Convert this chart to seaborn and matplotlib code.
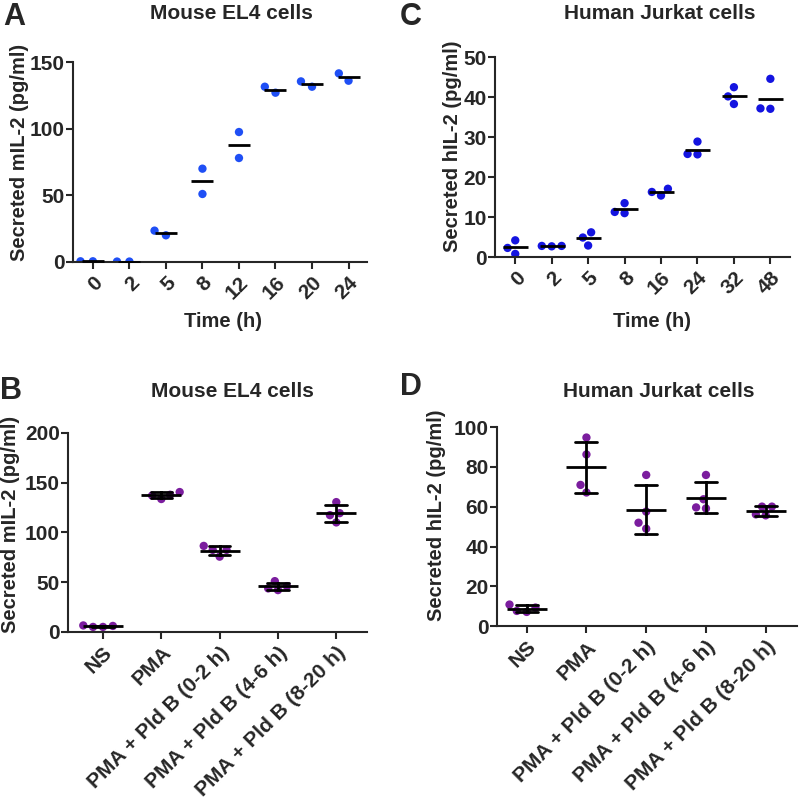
import pandas as pd
import matplotlib
matplotlib.use("Agg")
import matplotlib.pyplot as plt
import seaborn as sns

# ----------------------------------------------------------
# Data
# ----------------------------------------------------------

# A: mouse EL4 time course, two replicates
el4_time = ["0", "2", "5", "8", "12", "16", "20", "24"]
el4_rep1 = [0.5, 0.3, 20.0, 51.0, 78.0, 127.0, 131.5, 136.0]
el4_rep2 = [0.5, 0.3, 23.5, 70.0, 97.5, 131.5, 135.5, 141.5]

# C: human Jurkat time course, three replicates
jurkat_time = ["0", "2", "5", "8", "16", "24", "32", "48"]
jurkat_rep1 = [4.2, 2.7, 6.2, 13.5, 17.1, 28.9, 42.5, 44.6]
jurkat_rep2 = [0.8, 2.8, 2.9, 11.0, 15.4, 25.7, 38.3, 37.1]
jurkat_rep3 = [2.3, 2.8, 4.9, 11.3, 16.3, 25.8, 40.2, 37.2]

# B / D: treatments, four replicates
treatments = ["NS", "PMA", "PMA + Pld B (0-2 h)", "PMA + Pld B (4-6 h)", "PMA + Pld B (8-20 h)"]
el4_pld_rep1 = [5.0, 140.5, 82.4, 46.0, 119.3]
el4_pld_rep2 = [6.5, 137.8, 86.4, 51.0, 130.4]
el4_pld_rep3 = [5.0, 133.5, 75.6, 42.0, 110.0]
el4_pld_rep4 = [6.0, 137.0, 82.4, 43.7, 117.3]

jurkat_pld_rep1 = [9.4, 94.8, 76.0, 63.8, 60.1]
jurkat_pld_rep2 = [7.2, 86.3, 57.6, 76.0, 55.7]
jurkat_pld_rep3 = [10.9, 67.2, 49.0, 59.2, 60.1]
jurkat_pld_rep4 = [7.7, 71.0, 52.0, 59.7, 56.2]


def long_table(groups, reps):
    rows = []
    for rep in reps:
        for g, v in zip(groups, rep):
            rows.append({"group": g, "value": v})
    return pd.DataFrame(rows)


df_a = long_table(el4_time, [el4_rep1, el4_rep2])
df_c = long_table(jurkat_time, [jurkat_rep1, jurkat_rep2, jurkat_rep3])
df_b = long_table(treatments, [el4_pld_rep1, el4_pld_rep2, el4_pld_rep3, el4_pld_rep4])
df_d = long_table(treatments, [jurkat_pld_rep1, jurkat_pld_rep2, jurkat_pld_rep3, jurkat_pld_rep4])

# ----------------------------------------------------------
# Style
# ----------------------------------------------------------

sns.set_style("ticks")
plt.rcParams["font.family"] = ["Liberation Sans", "DejaVu Sans"]
plt.rcParams["font.weight"] = "bold"
plt.rcParams["axes.labelweight"] = "bold"
plt.rcParams["axes.linewidth"] = 1.5

BLUE_A = "#1f4ff5"
BLUE_C = "#1414e0"
PURPLE = "#7b1d9e"

fig = plt.figure(figsize=(8, 8.06), dpi=100)
ax_a = fig.add_axes([0.091, 0.675, 0.3675, 0.248])
ax_c = fig.add_axes([0.619, 0.681, 0.369, 0.248])
ax_b = fig.add_axes([0.085, 0.216, 0.374, 0.247])
ax_d = fig.add_axes([0.621, 0.223, 0.375, 0.247])


def draw_panel(ax, df, order, color, errorbar, line_size, capsize, spread):
    sns.swarmplot(data=df, x="group", y="value", order=order, color=color,
                  size=6, linewidth=spread, edgecolor="none", ax=ax, zorder=2)
    sns.pointplot(data=df, x="group", y="value", order=order, errorbar=errorbar,
                  capsize=capsize, color="black", marker="_", markersize=line_size,
                  markeredgewidth=2, linestyle="none",
                  err_kws={"linewidth": 2, "zorder": 3}, ax=ax, zorder=3)
    sns.despine(ax=ax)
    ax.tick_params(axis="both", length=5, width=1.5, labelsize=15, pad=1)
    ax.tick_params(axis="x", pad=3)
    ax.set_xticks(range(len(order)))
    ax.set_xticklabels(order, rotation=45, ha="right", rotation_mode="anchor",
                       fontsize=15, fontweight="bold")
    ax.set_xlabel("")


draw_panel(ax_a, df_a, el4_time, BLUE_A, None, 16.5, 0, 2.5)
draw_panel(ax_c, df_c, jurkat_time, BLUE_C, None, 18, 0, 0.8)
draw_panel(ax_b, df_b, treatments, PURPLE, "sd", 29, 0.37, 0.8)
draw_panel(ax_d, df_d, treatments, PURPLE, "sd", 29, 0.37, 0.8)

ax_a.set_xlim(-0.55, 7.5)
ax_a.set_ylim(0, 150)
ax_a.set_yticks([0, 50, 100, 150])
ax_c.set_xlim(-0.55, 7.55)
ax_c.set_ylim(0, 50)
ax_c.set_yticks([0, 10, 20, 30, 40, 50])
ax_b.set_xlim(-0.6, 4.53)
ax_b.set_ylim(0, 200)
ax_b.set_yticks([0, 50, 100, 150, 200])
ax_d.set_xlim(-0.5, 4.52)
ax_d.set_ylim(0, 100)
ax_d.set_yticks([0, 20, 40, 60, 80, 100])

for ax in (ax_a, ax_b, ax_c, ax_d):
    for lab in ax.get_yticklabels():
        lab.set_fontweight("bold")
        lab.set_fontsize(15)

# y labels (coords give the right edge of the rotated label)
ax_a.set_ylabel("Secreted mIL-2 (pg/ml)", fontsize=14.5, fontweight="bold")
ax_a.yaxis.set_label_coords(-0.15, 0.55)
ax_c.set_ylabel("Secreted hIL-2 (pg/ml)", fontsize=14.5, fontweight="bold")
ax_c.yaxis.set_label_coords(-0.112, 0.555)
ax_b.set_ylabel("Secreted mIL-2 (pg/ml)", fontsize=14.5, fontweight="bold")
ax_b.yaxis.set_label_coords(-0.16, 0.54)
ax_d.set_ylabel("Secreted hIL-2 (pg/ml)", fontsize=14.5, fontweight="bold")
ax_d.yaxis.set_label_coords(-0.17, 0.56)

# x labels (time panels only)
ax_a.set_xlabel("Time (h)", fontsize=14.5, fontweight="bold")
ax_a.xaxis.set_label_coords(0.51, -0.25)
ax_c.set_xlabel("Time (h)", fontsize=14.5, fontweight="bold")
ax_c.xaxis.set_label_coords(0.53, -0.275)

# titles
ax_a.text(0.54, 1.245, "Mouse EL4 cells", transform=ax_a.transAxes,
          ha="center", va="center", fontsize=15, fontweight="bold")
ax_c.text(0.556, 1.22, "Human Jurkat cells", transform=ax_c.transAxes,
          ha="center", va="center", fontsize=15, fontweight="bold")
ax_b.text(0.55, 1.206, "Mouse EL4 cells", transform=ax_b.transAxes,
          ha="center", va="center", fontsize=15, fontweight="bold")
ax_d.text(0.54, 1.18, "Human Jurkat cells", transform=ax_d.transAxes,
          ha="center", va="center", fontsize=15, fontweight="bold")

# panel letters
fig.text(0.004, 0.997, "A", ha="left", va="top", fontsize=22, fontweight="bold")
fig.text(0.500, 0.997, "C", ha="left", va="top", fontsize=22, fontweight="bold")
fig.text(0.000, 0.533, "B", ha="left", va="top", fontsize=22, fontweight="bold")
fig.text(0.500, 0.539, "D", ha="left", va="top", fontsize=22, fontweight="bold")

fig.savefig("out.png", dpi=100)
